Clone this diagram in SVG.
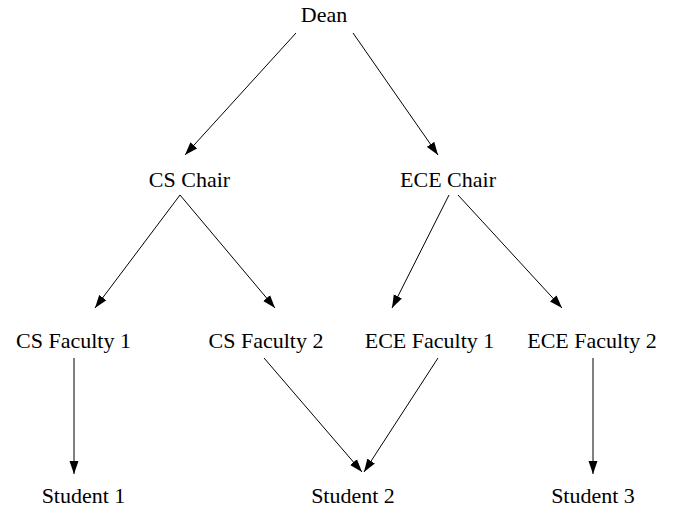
<svg xmlns="http://www.w3.org/2000/svg" width="679" height="510" viewBox="0 0 679 510">
<style>
text{font-family:"Liberation Serif","Times New Roman",serif;font-size:22px;fill:#000;text-anchor:middle}
.e{stroke:#000;stroke-width:1;fill:none;marker-end:url(#ah)}
</style>
<defs>
<marker id="ah" markerUnits="userSpaceOnUse" markerWidth="14" markerHeight="10" refX="13" refY="4.5" orient="auto" viewBox="0 0 14 9">
<path d="M0,0 L13,4.5 L0,9 z" fill="#000"/>
</marker>
</defs>
<rect width="679" height="510" fill="#fff"/>
<g id="connectors">
<line class="e" x1="296" y1="33" x2="185" y2="155"/>
<line class="e" x1="353" y1="33" x2="438" y2="155"/>
<line class="e" x1="180" y1="195" x2="95" y2="308"/>
<line class="e" x1="180" y1="195" x2="275" y2="308"/>
<line class="e" x1="449" y1="195" x2="392" y2="308"/>
<line class="e" x1="458" y1="195" x2="562" y2="308"/>
<line class="e" x1="74" y1="358" x2="74" y2="474"/>
<line class="e" x1="264" y1="358" x2="362" y2="472"/>
<line class="e" x1="438" y1="358" x2="364" y2="472"/>
<line class="e" x1="593" y1="358" x2="593" y2="474"/>
</g>
<g id="dean"><text x="324" y="22">Dean</text></g>
<g id="cs-chair"><text x="189.5" y="187">CS Chair</text></g>
<g id="ece-chair"><text x="448" y="187">ECE Chair</text></g>
<g id="cs-faculty-1"><text x="73.5" y="348">CS Faculty 1</text></g>
<g id="cs-faculty-2"><text x="266" y="348">CS Faculty 2</text></g>
<g id="ece-faculty-1"><text x="429.5" y="348">ECE Faculty 1</text></g>
<g id="ece-faculty-2"><text x="592" y="348">ECE Faculty 2</text></g>
<g id="student-1"><text x="83.5" y="503">Student 1</text></g>
<g id="student-2"><text x="353" y="503">Student 2</text></g>
<g id="student-3"><text x="593" y="503">Student 3</text></g>
</svg>
